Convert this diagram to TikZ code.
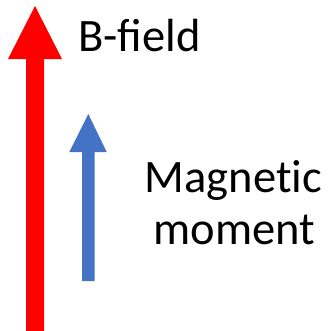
\documentclass[tikz,border=0pt]{standalone}
\usepackage{fontspec}
\setmainfont{Carlito}
\definecolor{officeblue}{HTML}{4472C4}
\begin{document}
\begin{tikzpicture}[x=1bp,y=-1bp,
  lbl/.style={inner sep=0pt,outer sep=0pt,font=\fontsize{46.5bp}{56bp}\selectfont}]
\useasboundingbox (0,0) rectangle (330,331);
\fill[red] (26,331) -- (26,59) -- (8,59) -- (35,6) -- (62,59) -- (44,59) -- (44,331) -- cycle;
\fill[officeblue] (82,281) -- (82,152) -- (69.3,152) -- (88.3,114) -- (106.7,152) -- (94.7,152) -- (94.7,281) -- cycle;
\node[lbl,anchor=base west] (bf) at (78.5,51) {B-field};
\node[lbl,anchor=base] (mag) at (233.5,192) {Magnet\kern0pt{}ic};
\node[lbl,anchor=base] (mom) at (234.5,244) {moment};
\end{tikzpicture}
\end{document}
